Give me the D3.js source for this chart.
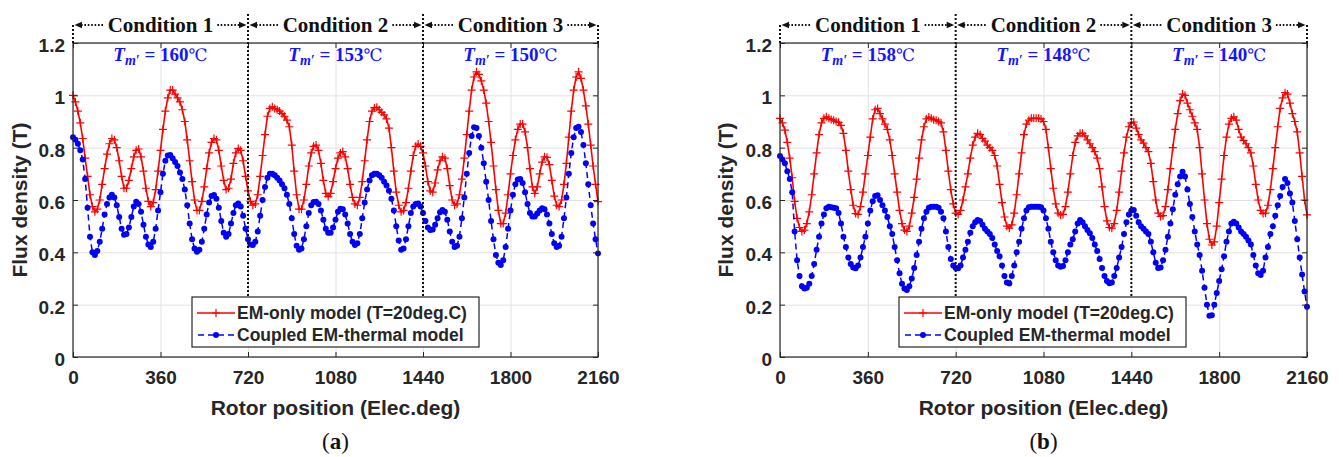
<!DOCTYPE html>
<html>
<head>
<meta charset="utf-8">
<script src="https://cdn.jsdelivr.net/npm/d3@7"></script>
<style>
  body { margin: 0; background: #fff; }
  svg { display: block; }
</style>
</head>
<body>
<svg id="fig" width="1343" height="457"></svg>
<script>
// rotor position sampled every 10 elec.deg, 0..2160
const rotorStep = 10;

// panel (a): flux density (T)
const emA = [
  1.00, 0.975, 0.94, 0.895, 0.835, 0.76, 0.69, 0.62, 0.575, 0.555,
  0.565, 0.60, 0.66, 0.72, 0.775, 0.815, 0.835, 0.83, 0.80, 0.75,
  0.69, 0.645, 0.645, 0.675, 0.72, 0.765, 0.79, 0.795, 0.765, 0.71,
  0.645, 0.595, 0.575, 0.59, 0.64, 0.71, 0.79, 0.87, 0.94, 0.99,
  1.02, 1.02, 1.005, 0.99, 0.975, 0.945, 0.90, 0.83, 0.75, 0.67,
  0.60, 0.56, 0.56, 0.595, 0.65, 0.72, 0.78, 0.82, 0.835, 0.83,
  0.79, 0.73, 0.675, 0.64, 0.645, 0.68, 0.74, 0.78, 0.797, 0.79,
  0.75, 0.69, 0.635, 0.595, 0.58, 0.585, 0.62, 0.69, 0.77, 0.85,
  0.92, 0.95, 0.956, 0.95, 0.945, 0.94, 0.93, 0.92, 0.905, 0.88,
  0.81, 0.71, 0.62, 0.565, 0.565, 0.60, 0.66, 0.73, 0.78, 0.805,
  0.81, 0.79, 0.74, 0.675, 0.625, 0.613, 0.625, 0.67, 0.72, 0.76,
  0.78, 0.785, 0.765, 0.72, 0.66, 0.61, 0.585, 0.58, 0.61, 0.67,
  0.75, 0.83, 0.90, 0.94, 0.953, 0.954, 0.945, 0.935, 0.925, 0.91,
  0.875, 0.80, 0.71, 0.63, 0.58, 0.555, 0.56, 0.59, 0.645, 0.71,
  0.77, 0.805, 0.814, 0.805, 0.78, 0.73, 0.67, 0.635, 0.63, 0.665,
  0.715, 0.75, 0.765, 0.76, 0.72, 0.655, 0.60, 0.58, 0.585, 0.62,
  0.68, 0.76, 0.85, 0.94, 1.02, 1.07, 1.09, 1.08, 1.055, 1.02,
  0.97, 0.90, 0.82, 0.73, 0.64, 0.56, 0.51, 0.51, 0.55, 0.62,
  0.70, 0.77, 0.83, 0.87, 0.89, 0.89, 0.86, 0.80, 0.72, 0.65,
  0.625, 0.65, 0.70, 0.745, 0.765, 0.763, 0.735, 0.675, 0.615, 0.58,
  0.575, 0.60, 0.66, 0.74, 0.84, 0.94, 1.02, 1.07, 1.09, 1.065,
  1.02, 0.96, 0.89, 0.81, 0.73, 0.66, 0.594
];
const coupledA = [
  0.84, 0.83, 0.815, 0.79, 0.755, 0.68, 0.57, 0.46, 0.40, 0.39,
  0.405, 0.44, 0.49, 0.545, 0.585, 0.61, 0.62, 0.61, 0.58, 0.535,
  0.49, 0.467, 0.47, 0.495, 0.535, 0.575, 0.593, 0.585, 0.555, 0.505,
  0.46, 0.43, 0.42, 0.44, 0.49, 0.56, 0.63, 0.70, 0.75, 0.77,
  0.772, 0.76, 0.745, 0.73, 0.705, 0.68, 0.64, 0.58, 0.51, 0.45,
  0.415, 0.402, 0.41, 0.44, 0.49, 0.545, 0.59, 0.615, 0.619, 0.605,
  0.57, 0.52, 0.475, 0.46, 0.47, 0.51, 0.55, 0.58, 0.587, 0.575,
  0.54, 0.49, 0.45, 0.43, 0.428, 0.44, 0.48, 0.54, 0.60, 0.65,
  0.685, 0.70, 0.70, 0.695, 0.685, 0.675, 0.66, 0.645, 0.62, 0.585,
  0.53, 0.47, 0.425, 0.41, 0.415, 0.45, 0.50, 0.55, 0.58, 0.592,
  0.593, 0.585, 0.56, 0.525, 0.49, 0.475, 0.475, 0.495, 0.525, 0.555,
  0.567, 0.565, 0.545, 0.51, 0.47, 0.44, 0.428, 0.435, 0.47, 0.53,
  0.59, 0.64, 0.675, 0.695, 0.70, 0.70, 0.695, 0.685, 0.67, 0.655,
  0.635, 0.605, 0.56, 0.50, 0.445, 0.41, 0.415, 0.45, 0.50, 0.55,
  0.575, 0.585, 0.587, 0.575, 0.55, 0.52, 0.495, 0.485, 0.487, 0.505,
  0.53, 0.553, 0.562, 0.555, 0.525, 0.48, 0.44, 0.42, 0.425, 0.46,
  0.53, 0.61, 0.70, 0.78, 0.845, 0.878, 0.875, 0.845, 0.80, 0.74,
  0.67, 0.60, 0.52, 0.45, 0.39, 0.36, 0.352, 0.37, 0.42, 0.49,
  0.56, 0.62, 0.66, 0.678, 0.68, 0.665, 0.63, 0.585, 0.55, 0.537,
  0.537, 0.548, 0.56, 0.568, 0.565, 0.545, 0.51, 0.47, 0.435, 0.42,
  0.425, 0.46, 0.53, 0.61, 0.70, 0.78, 0.84, 0.875, 0.88, 0.86,
  0.81, 0.74, 0.66, 0.58, 0.51, 0.45, 0.396
];

// panel (b)
const emB = [
  0.912, 0.895, 0.867, 0.82, 0.76, 0.685, 0.595, 0.53, 0.495, 0.48,
  0.485, 0.51, 0.555, 0.62, 0.70, 0.78, 0.85, 0.895, 0.912, 0.918,
  0.912, 0.908, 0.905, 0.90, 0.897, 0.885, 0.855, 0.79, 0.71, 0.64,
  0.58, 0.548, 0.545, 0.575, 0.63, 0.70, 0.77, 0.84, 0.91, 0.945,
  0.95, 0.93, 0.91, 0.89, 0.87, 0.83, 0.77, 0.70, 0.63, 0.56,
  0.51, 0.485, 0.48, 0.50, 0.55, 0.61, 0.68, 0.76, 0.83, 0.88,
  0.91, 0.917, 0.912, 0.907, 0.905, 0.90, 0.895, 0.86, 0.79, 0.71,
  0.64, 0.585, 0.55, 0.545, 0.56, 0.60, 0.65, 0.70, 0.76, 0.81,
  0.84, 0.855, 0.85, 0.835, 0.825, 0.81, 0.80, 0.79, 0.77, 0.73,
  0.66, 0.59, 0.535, 0.50, 0.492, 0.505, 0.55, 0.62, 0.70, 0.78,
  0.85, 0.89, 0.905, 0.912, 0.912, 0.912, 0.912, 0.91, 0.90, 0.87,
  0.80, 0.72, 0.645, 0.585, 0.55, 0.543, 0.545, 0.575, 0.63, 0.70,
  0.77, 0.82, 0.845, 0.855, 0.855, 0.845, 0.83, 0.815, 0.80, 0.785,
  0.76, 0.72, 0.65, 0.575, 0.52, 0.495, 0.492, 0.51, 0.56, 0.63,
  0.71, 0.78, 0.84, 0.88, 0.895, 0.898, 0.875, 0.85, 0.83, 0.817,
  0.80, 0.785, 0.74, 0.67, 0.60, 0.55, 0.537, 0.54, 0.575, 0.64,
  0.72, 0.80, 0.87, 0.93, 0.98, 1.005, 1.0, 0.97, 0.945, 0.92,
  0.895, 0.87, 0.80, 0.70, 0.60, 0.51, 0.45, 0.428, 0.44, 0.50,
  0.59, 0.68, 0.77, 0.84, 0.89, 0.912, 0.918, 0.905, 0.87, 0.84,
  0.828, 0.815, 0.80, 0.78, 0.73, 0.66, 0.60, 0.56, 0.548, 0.55,
  0.58, 0.64, 0.72, 0.80, 0.88, 0.95, 0.99, 1.01, 1.005, 0.97,
  0.93, 0.90, 0.86, 0.78, 0.69, 0.60, 0.543
];
const coupledB = [
  0.768, 0.755, 0.74, 0.71, 0.68, 0.63, 0.48, 0.37, 0.31, 0.27,
  0.262, 0.265, 0.28, 0.31, 0.355, 0.41, 0.46, 0.51, 0.545, 0.568,
  0.574, 0.572, 0.57, 0.568, 0.55, 0.51, 0.46, 0.42, 0.38, 0.355,
  0.342, 0.339, 0.35, 0.38, 0.42, 0.46, 0.51, 0.56, 0.595, 0.615,
  0.618, 0.60, 0.58, 0.56, 0.535, 0.50, 0.47, 0.42, 0.37, 0.32,
  0.28, 0.262, 0.256, 0.27, 0.30, 0.34, 0.39, 0.44, 0.49, 0.53,
  0.555, 0.57, 0.574, 0.574, 0.574, 0.57, 0.555, 0.53, 0.48, 0.42,
  0.375, 0.35, 0.34, 0.339, 0.35, 0.38, 0.41, 0.44, 0.475, 0.50,
  0.515, 0.524, 0.52, 0.505, 0.49, 0.48, 0.47, 0.455, 0.43, 0.405,
  0.385, 0.35, 0.31, 0.285, 0.281, 0.31, 0.35, 0.40, 0.44, 0.49,
  0.53, 0.56, 0.572, 0.574, 0.574, 0.574, 0.574, 0.572, 0.56, 0.53,
  0.49, 0.44, 0.40, 0.37, 0.35, 0.345, 0.348, 0.37, 0.40, 0.43,
  0.45, 0.48, 0.51, 0.524, 0.515, 0.50, 0.485, 0.473, 0.455, 0.43,
  0.405, 0.375, 0.34, 0.31, 0.29, 0.282, 0.285, 0.31, 0.34, 0.38,
  0.42, 0.47, 0.515, 0.545, 0.56, 0.562, 0.54, 0.515, 0.50, 0.49,
  0.48, 0.47, 0.44, 0.40, 0.36, 0.34, 0.342, 0.37, 0.41, 0.46,
  0.51, 0.565, 0.62, 0.66, 0.69, 0.708, 0.69, 0.64, 0.585, 0.535,
  0.48, 0.43, 0.39, 0.33, 0.265, 0.20, 0.158, 0.16, 0.20, 0.245,
  0.29, 0.335, 0.385, 0.44, 0.48, 0.51, 0.517, 0.51, 0.495, 0.48,
  0.47, 0.46, 0.445, 0.43, 0.39, 0.35, 0.32, 0.313, 0.33, 0.38,
  0.42, 0.47, 0.50, 0.54, 0.58, 0.615, 0.65, 0.68, 0.665, 0.625,
  0.59, 0.52, 0.45, 0.38, 0.315, 0.25, 0.192
];

const xTicks = [0, 360, 720, 1080, 1440, 1800, 2160];
const yTicks = [0, 0.2, 0.4, 0.6, 0.8, 1.0, 1.2];
const conditionNames = ["Condition 1", "Condition 2", "Condition 3"];
const conditionBounds = [0, 720, 1440, 2160];
const tempsA = [160, 153, 150];
const tempsB = [158, 148, 140];
const legendNames = ["EM-only model (T=20deg.C)", "Coupled EM-thermal model"];

const sans = "'Liberation Sans', Arial, Helvetica, sans-serif";
const serif = "'Liberation Serif', 'Times New Roman', serif";
const axisColor = "#262626";
const plotTop = 43, plotBottom = 357;

const svg = d3.select("#fig");

function drawPanel(p) {
  const x = d3.scaleLinear().domain([0, 2160]).range([p.left, p.right]);
  const y = d3.scaleLinear().domain([0, 1.2]).range([plotBottom, plotTop]);
  const g = svg.append("g");
  const h = plotBottom - plotTop, w = p.right - p.left;

  // grid
  g.append("g").attr("transform", `translate(0,${plotBottom})`)
    .call(d3.axisBottom(x).tickValues(xTicks).tickSize(-h).tickFormat(""))
    .call(a => a.select(".domain").remove())
    .selectAll("line").attr("stroke", "#e2e2e2");
  g.append("g").attr("transform", `translate(${p.left},0)`)
    .call(d3.axisLeft(y).tickValues(yTicks).tickSize(-w).tickFormat(""))
    .call(a => a.select(".domain").remove())
    .selectAll("line").attr("stroke", "#e2e2e2");

  // series
  const line = d3.line().x((d, i) => x(i * rotorStep)).y(d => y(d));
  const plus = "M-4,0H4M0,-4V4";

  g.append("path").datum(p.em).attr("d", line)
    .attr("fill", "none").attr("stroke", "#ff0000").attr("stroke-width", 1.6);
  g.append("g").selectAll("path").data(p.em).join("path")
    .attr("d", plus)
    .attr("transform", (d, i) => `translate(${x(i * rotorStep)},${y(d)})`)
    .attr("stroke", "#ff0000").attr("stroke-width", 1.2);

  g.append("path").datum(p.cp).attr("d", line)
    .attr("fill", "none").attr("stroke", "#0000ff").attr("stroke-width", 1.5)
    .attr("stroke-dasharray", "6,4");
  g.append("g").selectAll("circle").data(p.cp).join("circle")
    .attr("cx", (d, i) => x(i * rotorStep)).attr("cy", d => y(d))
    .attr("r", 3).attr("fill", "#0000ff");

  // frame + inner ticks (matlab box)
  g.append("rect").attr("x", p.left).attr("y", plotTop).attr("width", w).attr("height", h)
    .attr("fill", "none").attr("stroke", axisColor).attr("stroke-width", 1.2);
  const tk = [
    [d3.axisBottom(x).tickValues(xTicks), `translate(0,${plotBottom})`],
    [d3.axisTop(x).tickValues(xTicks), `translate(0,${plotTop})`],
    [d3.axisLeft(y).tickValues(yTicks), `translate(${p.left},0)`],
    [d3.axisRight(y).tickValues(yTicks), `translate(${p.right},0)`]
  ];
  tk.forEach(([ax, tr]) => {
    g.append("g").attr("transform", tr)
      .call(ax.tickSize(-5).tickFormat(""))
      .call(a => a.select(".domain").remove())
      .selectAll("line").attr("stroke", axisColor);
  });

  // tick labels
  const xl = g.append("g").attr("transform", `translate(0,${plotBottom})`)
    .call(d3.axisBottom(x).tickValues(xTicks).tickSize(0).tickPadding(14).tickFormat(d3.format("d")));
  xl.select(".domain").remove();
  xl.selectAll("text").attr("font-family", sans).attr("font-weight", "bold")
    .attr("font-size", 19).attr("fill", "#262626");
  const yl = g.append("g").attr("transform", `translate(${p.left},0)`)
    .call(d3.axisLeft(y).tickValues(yTicks).tickSize(0).tickPadding(8).tickFormat(d3.format("~g")));
  yl.select(".domain").remove();
  yl.selectAll("text").attr("font-family", sans).attr("font-weight", "bold")
    .attr("font-size", 19).attr("fill", "#262626").attr("dy", "0.45em");

  // axis titles
  g.append("text").attr("x", (p.left + p.right) / 2).attr("y", 415)
    .attr("text-anchor", "middle").attr("font-family", sans).attr("font-weight", "bold")
    .attr("font-size", 21).attr("fill", "#262626").text("Rotor position (Elec.deg)");
  g.append("text").attr("transform", `translate(${p.yTitleX},${(plotTop + plotBottom) / 2}) rotate(-90)`)
    .attr("text-anchor", "middle").attr("dy", "0.35em").attr("font-family", sans)
    .attr("font-weight", "bold").attr("font-size", 21).attr("fill", "#262626").text("Flux density (T)");

  // condition separators
  const legX = p.left + 119, legY = 297;
  conditionBounds.forEach((b, i) => {
    const inner = i > 0 && i < conditionBounds.length - 1;
    g.append("line").attr("x1", x(b)).attr("x2", x(b))
      .attr("y1", inner ? 14 : 25).attr("y2", inner ? legY : plotTop)
      .attr("stroke", "#111").attr("stroke-width", 2).attr("stroke-dasharray", "2,2");
  });

  const arrowY = 25;
  conditionNames.forEach((name, i) => {
    const x0 = x(conditionBounds[i]), x1 = x(conditionBounds[i + 1]);
    const cx = (x0 + x1) / 2;
    const t = g.append("text").attr("x", cx).attr("y", arrowY + 7).attr("text-anchor", "middle")
      .attr("font-family", serif).attr("font-weight", "bold").attr("font-size", 21)
      .attr("fill", "#111").text(name);
    const tw = t.node().getComputedTextLength();
    [[x0 + 8, cx - tw / 2 - 4], [cx + tw / 2 + 4, x1 - 8]].forEach(([a, b]) => {
      g.append("line").attr("x1", a).attr("x2", b).attr("y1", arrowY).attr("y2", arrowY)
        .attr("stroke", "#111").attr("stroke-width", 1.8).attr("stroke-dasharray", "1.6,1.8");
    });
    g.append("path").attr("d", `M${x0 + 1.5},${arrowY}L${x0 + 9},${arrowY - 3.2}L${x0 + 9},${arrowY + 3.2}Z`).attr("fill", "#111");
    g.append("path").attr("d", `M${x1 - 1.5},${arrowY}L${x1 - 9},${arrowY - 3.2}L${x1 - 9},${arrowY + 3.2}Z`).attr("fill", "#111");

    // magnet temperature label
    const tl = g.append("text").attr("x", cx).attr("y", 61).attr("text-anchor", "middle")
      .attr("font-family", serif).attr("font-weight", "bold").attr("font-size", 19).attr("fill", "#1414ff");
    tl.append("tspan").attr("font-style", "italic").text("T");
    tl.append("tspan").attr("font-style", "italic").attr("font-size", 14).attr("dy", 4).text("m′");
    tl.append("tspan").attr("dy", -4).text(" = " + p.temps[i]);
    tl.append("tspan").attr("font-weight", "normal").attr("font-family", "'DejaVu Serif', serif")
      .attr("font-size", 17).text("℃");
  });

  // legend
  const leg = g.append("g");
  leg.append("rect").attr("x", legX).attr("y", legY).attr("width", 287).attr("height", 50)
    .attr("fill", "#fff").attr("stroke", axisColor).attr("stroke-width", 1.2);
  const rows = [legY + 16, legY + 38];
  leg.append("line").attr("x1", legX + 5).attr("x2", legX + 43).attr("y1", rows[0]).attr("y2", rows[0])
    .attr("stroke", "#ff0000").attr("stroke-width", 1.6);
  leg.append("path").attr("d", plus).attr("transform", `translate(${legX + 24},${rows[0]})`)
    .attr("stroke", "#ff0000").attr("stroke-width", 1.2);
  leg.append("line").attr("x1", legX + 5).attr("x2", legX + 43).attr("y1", rows[1]).attr("y2", rows[1])
    .attr("stroke", "#0000ff").attr("stroke-width", 1.5).attr("stroke-dasharray", "6,4").attr("stroke-dashoffset", -1);
  leg.append("circle").attr("cx", legX + 24).attr("cy", rows[1]).attr("r", 3).attr("fill", "#0000ff");
  legendNames.forEach((n, i) => {
    leg.append("text").attr("x", legX + 45).attr("y", rows[i]).attr("dy", "0.36em")
      .attr("font-family", sans).attr("font-weight", "bold").attr("font-size", 17.5)
      .attr("fill", "#262626").text(n);
  });

  // sub-figure tag
  const tag = g.append("text").attr("x", (p.left + p.right) / 2).attr("y", 449).attr("text-anchor", "middle")
    .attr("font-family", serif).attr("font-size", 23).attr("fill", "#111");
  tag.append("tspan").text("(");
  tag.append("tspan").attr("font-weight", "bold").text(p.tag);
  tag.append("tspan").text(")");
}

drawPanel({ tag: "a", left: 73, right: 598, yTitleX: 20, em: emA, cp: coupledA, temps: tempsA });
drawPanel({ tag: "b", left: 780, right: 1307, yTitleX: 726, em: emB, cp: coupledB, temps: tempsB });
</script>
</body>
</html>
